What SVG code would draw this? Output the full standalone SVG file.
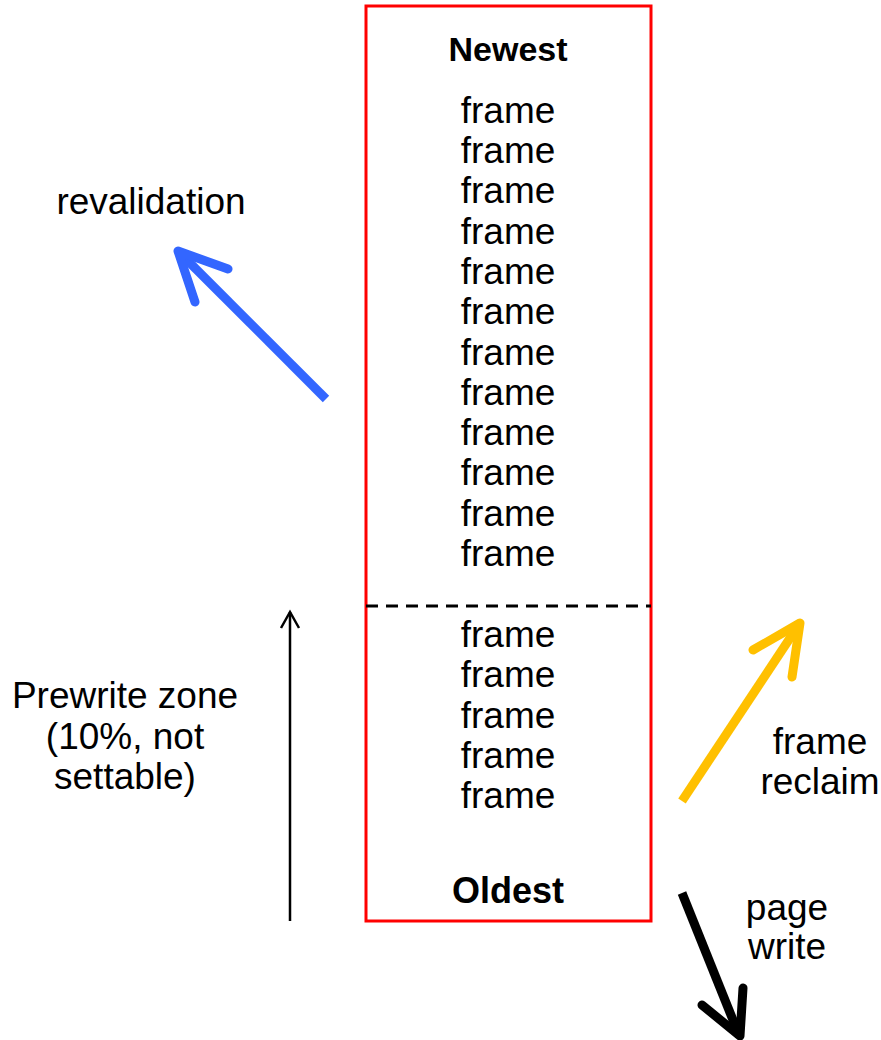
<svg xmlns="http://www.w3.org/2000/svg" width="881" height="1040" viewBox="0 0 881 1040">
  <style>
    text { font-family: "Liberation Sans", Arial, sans-serif; font-size: 37px; fill: #000; text-anchor: middle; }
    .bold { font-weight: bold; font-size: 34px; }
    .thick { fill: none; stroke-width: 9; stroke-linecap: round; stroke-linejoin: round; }
  </style>
  <rect width="881" height="1040" fill="#fff"/>

  <!-- LRU list of frames -->
  <g id="list">
    <rect x="366" y="6" width="285" height="915" fill="none" stroke="#ff0000" stroke-width="3"/>
    <line x1="366" y1="606" x2="651" y2="606" stroke="#000" stroke-width="3" stroke-dasharray="12 8"/>
    <text class="bold" x="508" y="61">Newest</text>
    <text x="508" y="123">frame</text>
    <text x="508" y="163">frame</text>
    <text x="508" y="203">frame</text>
    <text x="508" y="244">frame</text>
    <text x="508" y="284">frame</text>
    <text x="508" y="324">frame</text>
    <text x="508" y="365">frame</text>
    <text x="508" y="405">frame</text>
    <text x="508" y="445">frame</text>
    <text x="508" y="485">frame</text>
    <text x="508" y="526">frame</text>
    <text x="508" y="566">frame</text>
    <text x="508" y="647">frame</text>
    <text x="508" y="687">frame</text>
    <text x="508" y="728">frame</text>
    <text x="508" y="768">frame</text>
    <text x="508" y="808">frame</text>
    <text class="bold" x="508" y="903" style="font-size:36px">Oldest</text>
  </g>

  <g id="prewrite">
    <text x="125" y="708">Prewrite zone</text>
    <text x="125" y="749">(10%, not</text>
    <text x="125" y="789">settable)</text>
  </g>

  <g id="revalidation"><text x="151" y="214">revalidation</text></g>
  <g id="reclaim">
    <text x="820" y="754">frame</text>
    <text x="820" y="794">reclaim</text>
  </g>
  <g id="pagewrite">
    <text x="787" y="920">page</text>
    <text x="787" y="959">write</text>
  </g>

  <!-- arrows -->
  <g id="connectors">
    <line x1="290" y1="921" x2="290" y2="612" stroke="#000" stroke-width="2.5"/>
    <polyline points="281,628 290,612 299,628" fill="none" stroke="#000" stroke-width="2.5"/>

    <line x1="326" y1="399" x2="184" y2="257" stroke="#3366ff" stroke-width="9"/>
    <path d="M228,269 L178,251 L195,302" class="thick" stroke="#3366ff"/>

    <line x1="682" y1="801" x2="796" y2="629" stroke="#ffc000" stroke-width="9"/>
    <path d="M753,650 L800,623 L792,677" class="thick" stroke="#ffc000"/>

    <line x1="682" y1="893" x2="737" y2="1030" stroke="#000" stroke-width="9"/>
    <path d="M702,1005 L740,1036 L743,988" class="thick" stroke="#000"/>
  </g>
</svg>
